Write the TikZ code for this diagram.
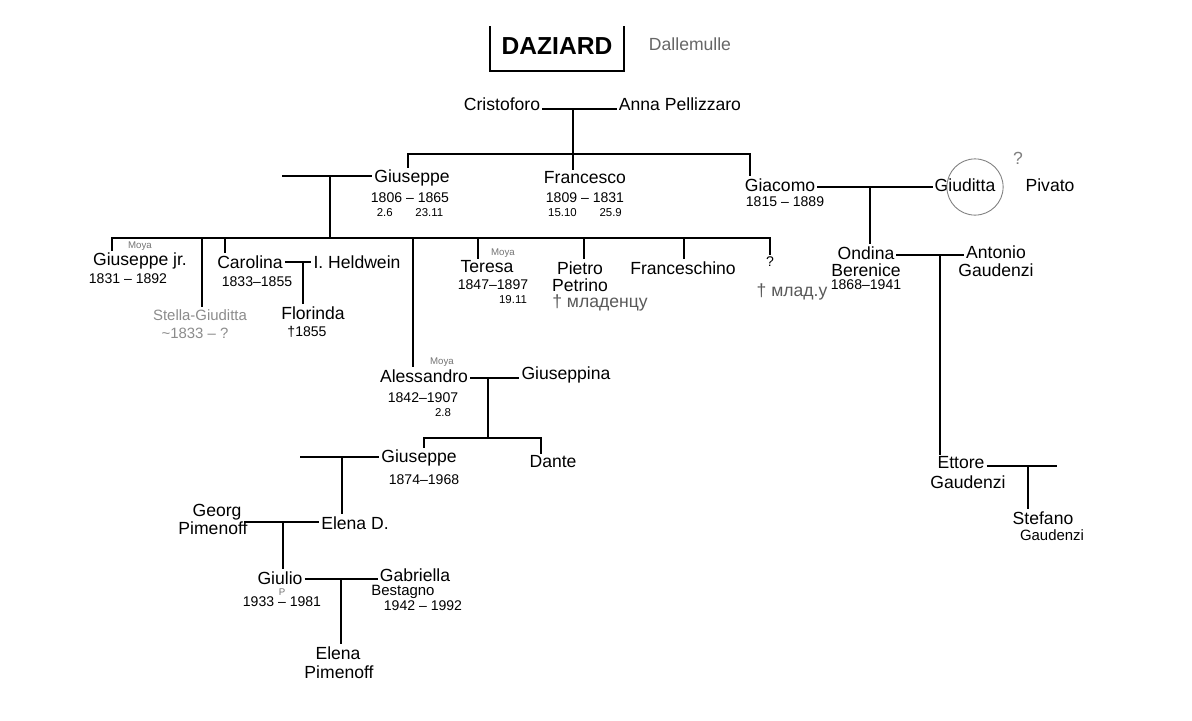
\documentclass[tikz,border=0pt]{standalone}
\usepackage{fontspec}
\setmainfont{Liberation Sans}
\usetikzlibrary{positioning,calc}

\begin{document}
\begin{tikzpicture}[x=0.02cm, y=-0.02cm,
  person/.style={inner sep=1pt, font=\fontsize{10}{11}\selectfont},
  yrs/.style={inner sep=1pt, font=\fontsize{8}{9}\selectfont},
  day/.style={inner sep=1pt, font=\fontsize{6.5}{7}\selectfont},
  remark/.style={inner sep=1pt, font=\fontsize{5.5}{6}\selectfont, text=black!55},
  faint/.style={inner sep=1pt, font=\fontsize{8.5}{9}\selectfont, text=black!45},
  link/.style={draw, line width=0.7pt}
]
\useasboundingbox[fill=white] (0,0) rectangle (1192,720);

\node[font=\fontsize{14}{15}\selectfont\bfseries] (title) at (557,46) {DAZIARD};
\draw[line width=1pt] ([xshift=-3pt,yshift=3pt]title.north west) |- ([xshift=3pt,yshift=-6pt]title.south east) -- ([xshift=3pt,yshift=3pt]title.north east);
\node[person, text=black!60] (alt) at (690,44) {Dallemulle};

\node[person] (crust) at (502,104) {Cristoforo};
\node[person] (anna) at (680,104) {Anna Pellizzaro};
\coordinate (m0) at (573,109);
\coordinate (b0l) at (408,154);
\coordinate (b0r) at (750,154);

\node[person] (gius) at (412,178) {Giuseppe};
\node[yrs] (gius-y) at (410,198) {1806 – 1865};
\node[day] (gius-d) at (410,213) {2.6\hspace{2em}23.11};
\node[person] (fran) at (585,178) {Francesco};
\node[yrs] (fran-y) at (585,198) {1809 – 1831};
\node[day] (fran-d) at (585,213) {15.10\hspace{2em}25.9};
\node[person] (giac) at (780,185) {Giacomo};
\node[yrs] (giac-y) at (785,202) {1815 – 1889};
\node[person] (gdt) at (965,185) {Giuditta};
\node[person] (piv) at (1050,185) {Pivato};
\node[person, text=black!50] (qm) at (1018,158) {?};
\draw[black!50, line width=0.5pt] (975,187) circle (16pt);

\draw[link] (crust.east |- m0) -- (anna.west |- m0);
\draw[link] (m0) -- (m0 |- fran.north);
\draw[link] (b0l |- gius.north) -- (b0l) -- (b0r) -- (b0r |- giac.north);

% Giacomo
\coordinate (m2) at (870,187);
\node[person] (ond) at (866,253) {Ondina};
\node[person] (ber) at (866,270) {Berenice};
\node[yrs] (ond-y) at (866,285) {1868–1941};
\node[person] (ant) at (996,252) {Antonio};
\node[person] (gau1) at (996,270) {Gaudenzi};
\coordinate (m3) at (940,255);
\node[person] (ett) at (961,463) {Ettore};
\node[person] (gau2) at (968,482) {Gaudenzi};
\coordinate (m4) at (1028,466);
\coordinate (w4) at (1057,466);
\node[person] (ste) at (1043,518) {Stefano};
\node[faint, text=black] (gau3) at (1052,535) {Gaudenzi};

\draw[link] (giac.east |- m2) -- (gdt.west |- m2);
\draw[link] (m2) -- (m2 |- ond.north);
\draw[link] (ond.east |- m3) -- (ant.west |- m3);
\draw[link] (m3) -- (m3 |- ett.north);
\draw[link] (ett.east |- m4) -- (w4);
\draw[link] (m4) -- (m4 |- ste.north);

% Giuseppe
\coordinate (w1) at (282,176);
\coordinate (m1) at (330,176);
\coordinate (k1) at (330,238);
\coordinate (c-gjr) at (112,238);
\coordinate (c-stel) at (202,238);
\coordinate (c-car) at (225,238);
\coordinate (c-ale) at (413,238);
\coordinate (c-ter) at (478,238);
\coordinate (c-pie) at (584,238);
\coordinate (c-frs) at (684,238);
\coordinate (c-q) at (770,238);

\node[person] (gjr) at (140,261) {Giuseppe jr.};
\node[remark] (moya1) at (140,246) {Moya};
\node[yrs] (gjr-y) at (128,279) {1831 – 1892};
\node[person] (car) at (250,262) {Carolina};
\node[yrs] (car-y) at (257,282) {1833–1855};
\node[person] (held) at (357,262) {I. Heldwein};
\coordinate (m5) at (303,262);
\node[person] (flo) at (313,313) {Florinda};
\node[yrs] (flo-y) at (307,332) {†1855};
\node[faint] (stel) at (200,315) {Stella-Giuditta};
\node[faint] (stel-y) at (195,333) {\textasciitilde 1833 – ?};
\node[person] (ter) at (487,267) {Teresa};
\node[remark] (moya2) at (503,253) {Moya};
\node[yrs] (ter-y) at (493,285) {1847–1897};
\node[day] (ter-d) at (513,300) {19.11};
\node[person] (pie) at (580,268) {Pietro};
\node[person] (pie2) at (580,285) {Petrino};
\node[person, text=black!65] (pie-x) at (600,303) {† младенцу};
\node[person] (frs) at (683,268) {Franceschino};
\node[yrs] (q) at (770,262) {?};
\node[person, text=black!65] (q-x) at (792,292) {† млад.у};

% Alessandro
\node[person] (ale) at (424,376) {Alessandro};
\node[remark] (moya3) at (442,362) {Moya};
\node[yrs] (ale-y) at (423,398) {1842–1907};
\node[day] (ale-d) at (443,413) {2.8};
\node[person] (gsp) at (566,375) {Giuseppina};
\coordinate (m6) at (488,378);
\coordinate (k6) at (488,438);
\coordinate (c-g2) at (424,438);
\coordinate (c-dan) at (541,438);
\node[person] (gius2) at (419,458) {Giuseppe};
\node[yrs] (gius2-y) at (424,480) {1874–1968};
\node[person] (dan) at (553,462) {Dante};

\draw[link] (w1) -- (w1 -| gius.west);
\draw[link] (m1) -- (k1);
\draw[link] (c-gjr |- gjr.north) -- (c-gjr) -- (c-q) -- (c-q |- q.north);
\draw[link] (c-stel) -- (c-stel |- stel.north);
\draw[link] (c-car) -- (c-car |- car.north);
\draw[link] (c-ale) -- (c-ale |- ale.north);
\draw[link] (c-ter) -- (c-ter |- ter.north);
\draw[link] (c-pie) -- (c-pie |- pie.north);
\draw[link] (c-frs) -- (c-frs |- frs.north);
\draw[link] (car.east |- m5) -- (held.west |- m5);
\draw[link] (m5) -- (m5 |- flo.north);

\draw[link] (ale.east |- m6) -- (gsp.west |- m6);
\draw[link] (m6) -- (k6);
\draw[link] (c-g2 |- gius2.north) -- (c-g2) -- (c-dan) -- (c-dan |- dan.north);

\coordinate (w7) at (300,457);
\coordinate (m7) at (342,457);
\node[person] (ele) at (355,523) {Elena D.};
\node[person] (geo) at (217,512) {Georg};
\node[person] (pim1) at (213,528) {Pimenoff};
\coordinate (m8) at (283,522);
\node[person] (giu) at (280,578) {Giulio};
\node[yrs] (giu-y) at (282,602) {1933 – 1981};
\node[remark] (giu-p) at (282,592) {P};
\node[person] (gab) at (415,575) {Gabriella};
\node[faint, text=black] (bes) at (403,592) {Bestagno};
\node[yrs] (gab-y) at (423,606) {1942 – 1992};
\coordinate (m9) at (341,579);
\node[person] (ele2) at (338,653) {Elena};
\node[person] (pim2) at (339,672) {Pimenoff};

\draw[link] (w7) -- (w7 -| gius2.west);
\draw[link] (m7) -- (m7 |- ele.north);
\draw[link] (geo.east |- m8) -- (ele.west |- m8);
\draw[link] (m8) -- (m8 |- giu.north);
\draw[link] (giu.east |- m9) -- (gab.west |- m9);
\draw[link] (m9) -- (m9 |- ele2.north);
\end{tikzpicture}
\end{document}
